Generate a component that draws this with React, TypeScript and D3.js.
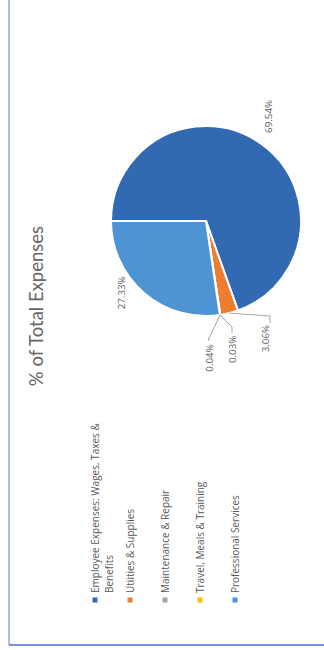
import React from "react";
import * as d3 from "d3";

const categories = [
  "Employee Expenses: Wages, Taxes & Benefits",
  "Utiities & Supplies",
  "Maintenance & Repair",
  "Travel, Meals & Training",
  "Professional Services",
];
const legendLines = [
  ["Employee Expenses: Wages, Taxes &", "Benefits"],
  ["Utiities & Supplies"],
  ["Maintenance & Repair"],
  ["Travel, Meals & Training"],
  ["Professional Services"],
];
const values = [69.54, 3.06, 0.04, 0.03, 27.33];
const labels = ["69.54%", "3.06%", "0.04%", "0.03%", "27.33%"];
const colors = ["#3169B2", "#ED7D31", "#A5A5A5", "#FFC000", "#4F94D2"];
const title = "% of Total Expenses";

const W = 324;
const H = 650;
const cx = 206;
const cy = 221;
const R = 95;
const FONT = "'Open Sans', Lato, sans-serif";
const TEXT = "#595959";

// label placement: polar offset from pie centre (deg compass, radius) or leader elbows
const labelPlace = [
  { ang: 31, r: 122, leader: null as null | number[][] },
  { ang: 153, r: 132, leader: [[64, 95], [64, 102]] },
  { ang: 178.5, r: 137, leader: [[2, 119], [4, 119]] },
  { ang: 168.5, r: 131, leader: [[26, 106], [26, 112]] },
  { ang: 229.7, r: 111, leader: null },
];

export default function App() {
  const pie = d3
    .pie<number>()
    .sort(null)
    .startAngle(-Math.PI / 2)
    .endAngle((3 * Math.PI) / 2)(values);
  const arc = d3.arc<d3.PieArcDatum<number>>().innerRadius(0).outerRadius(R);
  const polar = (angDeg: number, r: number) => {
    const a = (angDeg * Math.PI) / 180;
    return [cx + Math.sin(a) * r, cy - Math.cos(a) * r];
  };
  const legendX = d3.scalePoint<number>().domain(d3.range(categories.length)).range([95, 235]);

  return (
    <svg width={W} height={H} style={{ position: "absolute", left: 0, top: 0 }} fontFamily={FONT}>
      <rect x={0} y={0} width={W} height={H} fill="#fff" />
      <line x1={9} y1={0} x2={9} y2={645} stroke="#8FAADC" strokeWidth={1.5} />
      <line x1={9} y1={645} x2={W} y2={645} stroke="#4472C4" strokeWidth={1.5} />

      <text
        transform={`translate(36,306) rotate(-90)`}
        textAnchor="middle"
        dominantBaseline="central"
        fontSize={18.5}
        fontFamily="Lato, sans-serif"
        fill="#666666"
      >
        {title}
      </text>

      <g transform={`translate(${cx},${cy})`}>
        {pie.map((d, i) => (
          <path key={i} d={arc(d) || ""} fill={colors[i]} stroke="#fff" strokeWidth={2} strokeLinejoin="round" />
        ))}
      </g>

      {pie.map((d, i) => {
        const p = labelPlace[i];
        const [lx, ly] = polar(p.ang, p.r);
        const mid = ((d.startAngle + d.endAngle) / 2) * (180 / Math.PI);
        const [sx, sy] = polar(mid, R);
        return (
          <g key={i}>
            {p.leader && (
              <polyline
                points={[[sx, sy], ...p.leader.map(([dx, dy]) => [cx + dx, cy + dy])]
                  .map((q) => q.join(","))
                  .join(" ")}
                fill="none"
                stroke="#A6A6A6"
                strokeWidth={1}
              />
            )}
            <text
              transform={`translate(${lx},${ly}) rotate(-90)`}
              textAnchor="middle"
              dominantBaseline="central"
              fontSize={9.8}
              fill={TEXT}
            >
              {labels[i]}
            </text>
          </g>
        );
      })}

      {categories.map((c, i) => {
        const x = legendX(i) as number;
        return (
          <g key={c}>
            <rect x={x - 2.5} y={597.5} width={5} height={5} fill={colors[i]} />
            {legendLines[i].map((t, j) => (
              <text
                key={j}
                transform={`translate(${x + j * 14},593) rotate(-90)`}
                textAnchor="start"
                dominantBaseline="central"
                fontSize={10}
                fill={TEXT}
              >
                {t}
              </text>
            ))}
          </g>
        );
      })}
    </svg>
  );
}
